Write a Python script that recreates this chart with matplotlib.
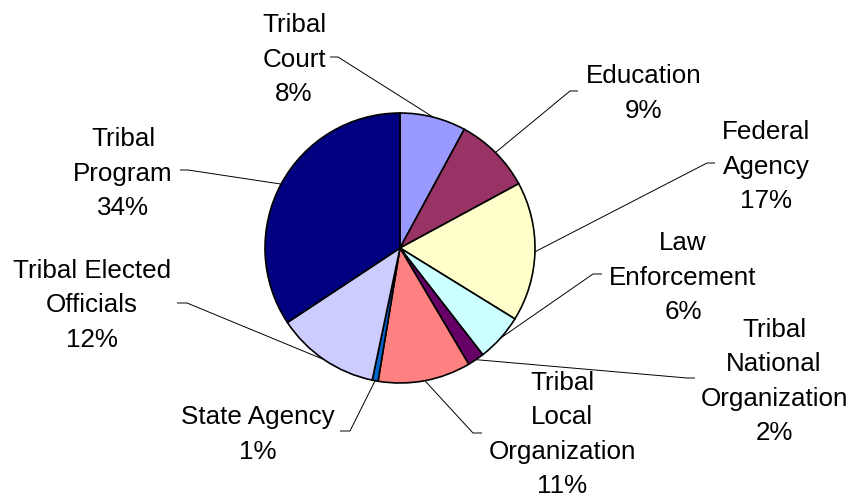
import numpy as np
import matplotlib.pyplot as plt

# Data
categories = ["Tribal Court", "Education", "Federal Agency", "Law Enforcement",
              "Tribal National Organization", "Tribal Local Organization",
              "State Agency", "Tribal Elected Officials", "Tribal Program"]
label_lines = [["Tribal", "Court"], ["Education"], ["Federal", "Agency"],
               ["Law", "Enforcement"], ["Tribal", "National", "Organization"],
               ["Tribal", "Local", "Organization"], ["State Agency"],
               ["Tribal Elected", "Officials"], ["Tribal", "Program"]]
shares = [7.9, 9.2, 16.7, 5.7, 2.0, 11.1, 0.7, 12.4, 34.3]
colors = ["#9999FF", "#993366", "#FFFFCC", "#CCFFFF", "#660066",
          "#FF8080", "#0066CC", "#CCCCFF", "#000080"]

# Layout (pixels, y measured from the top)
W, H = 864, 498
cx, cy, R = 400, 248, 135
label_pos = [(294, 57), (644, 91), (766, 164), (683, 275), (774, 379),
             (562, 432), (258, 432), (92, 303), (123, 171)]
leaders = [((338, 57), (330, 57)), ((570, 91), (578, 91)),
           ((707, 163), (715, 163)), ((593, 274), (602, 274)),
           ((687, 378), (695, 378)), ((473, 433), (482, 433)),
           ((350, 431), (340, 431)), ((187, 303), (177, 303)),
           ((188, 170), (180, 170))]
line_step = 34.5

fig = plt.figure(figsize=(W / 100, H / 100), dpi=100)
ax = fig.add_axes([0, 0, 1, 1])

wedges, _ = ax.pie(shares, colors=colors, startangle=90, counterclock=False,
                   center=(cx, H - cy), radius=R,
                   wedgeprops=dict(edgecolor="black", linewidth=1.2))

total = sum(shares)
for w, lines, s, (lx, ly), (elbow, end) in zip(wedges, label_lines, shares, label_pos, leaders):
    # leader line from the middle of the wedge edge
    mid = np.deg2rad((w.theta1 + w.theta2) / 2)
    sx, sy = cx + R * np.cos(mid), H - cy + R * np.sin(mid)
    ax.plot([sx, elbow[0], end[0]], [sy, H - elbow[1], H - end[1]],
            color="black", lw=0.7, solid_capstyle="butt")

    txt = lines + ["{}%".format(round(s / total * 100))]
    n = len(txt)
    for i, t in enumerate(txt):
        y = ly + (i - (n - 1) / 2) * line_step
        ax.text(lx, H - (y + 9.5), t, ha="center", va="baseline",
                fontsize=18.7, family="Liberation Sans", color="black")

ax.set_xlim(0, W)
ax.set_ylim(0, H)
ax.set_aspect("equal")
ax.axis("off")

fig.savefig("out.png", dpi=100)
